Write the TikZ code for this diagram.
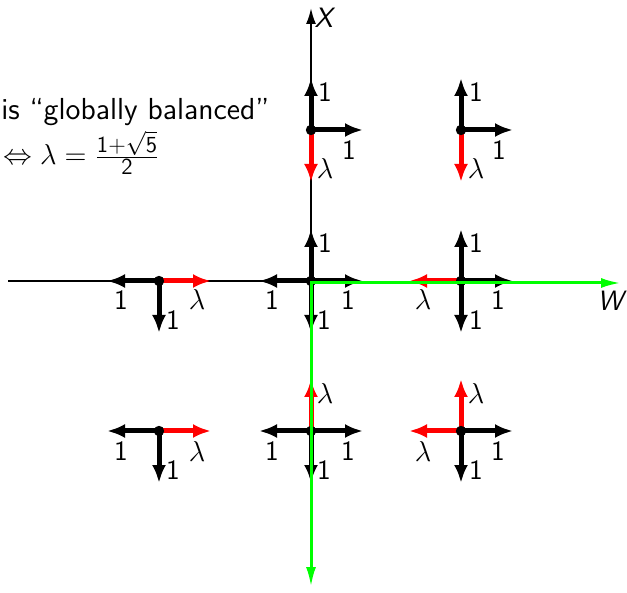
\documentclass[tikz,border=0pt]{standalone}
\usepackage{amsmath}
\usetikzlibrary{arrows.meta}
\renewcommand{\familydefault}{\sfdefault}

\tikzset{
	one/.style={line width=2.5pt, -{Latex[length=9pt,width=7pt]}},
	lam/.style={one, red},
	axis/.style={line width=1pt},
	walk/.style={green, line width=1.5pt},
	note/.style={anchor=west, inner sep=0pt, font=\fontsize{15.2}{18}\selectfont\sffamily},
}
\newcommand{\fracpart}[1]{\text{\fontsize{11.5}{12}\selectfont\sffamily #1}}

\begin{document}
\begin{tikzpicture}[x=0.5pt, y=-0.5pt, font=\fontsize{14}{16}\selectfont\sffamily]
	\useasboundingbox (0,0) rectangle (627,593);
	% lattice points
	\coordinate (t0) at (311,130);
	\coordinate (tr) at (461,130);
	\coordinate (ml) at (159,281);
	\coordinate (m0) at (311,281);
	\coordinate (mr) at (461,281);
	\coordinate (bl) at (159,431);
	\coordinate (b0) at (311,431);
	\coordinate (br) at (461,431);
	\coordinate (xend) at (8,281);
	\coordinate (xtip) at (311,8);
	\coordinate (wcorner) at (311,283);
	\coordinate (wtip) at (621,283);
	\coordinate (wdown) at (311,587);
	% axes
	\draw[axis] (xend) -- (m0);
	\draw[axis, -{Latex[length=8pt,width=5pt]}] (m0) -- (xtip);
	\node (xlab) at (325,18) {\textit{X}};
	\node (wlab) at (612,301) {\textit{W}};
	% top row
	\draw[one] (t0) -- ++(0,-52);
	\draw[one] (t0) -- ++(52,0);
	\draw[lam] (t0) -- ++(0,52);
	\node (t0u) at (325,92) {1};
	\node (t0r) at (349,150) {1};
	\node (t0d) at (325,169) {$\lambda$};
	\draw[one] (tr) -- ++(0,-52);
	\draw[one] (tr) -- ++(52,0);
	\draw[lam] (tr) -- ++(0,52);
	\node (tru) at (476,92) {1};
	\node (trr) at (499,150) {1};
	\node (trd) at (476,169) {$\lambda$};
	% middle row
	\draw[one] (ml) -- ++(-52,0);
	\draw[one] (ml) -- ++(0,52);
	\draw[lam] (ml) -- ++(52,0);
	\node (mll) at (121,300) {1};
	\node (mld) at (173,320) {1};
	\node (mlr) at (197,300) {$\lambda$};
	\draw[one] (m0) -- ++(0,-52);
	\draw[one] (m0) -- ++(-52,0);
	\draw[one] (m0) -- ++(52,0);
	\draw[one] (m0) -- ++(0,52);
	\node (m0u) at (325,243) {1};
	\node (m0l) at (272,300) {1};
	\node (m0r) at (348,300) {1};
	\node (m0d) at (324,320) {1};
	\draw[one] (mr) -- ++(0,-52);
	\draw[lam] (mr) -- ++(-52,0);
	\draw[one] (mr) -- ++(52,0);
	\draw[one] (mr) -- ++(0,52);
	\node (mru) at (476,243) {1};
	\node (mrl) at (423,300) {$\lambda$};
	\node (mrr) at (498,300) {1};
	\node (mrd) at (476,320) {1};
	% bottom row
	\draw[one] (bl) -- ++(-52,0);
	\draw[one] (bl) -- ++(0,52);
	\draw[lam] (bl) -- ++(52,0);
	\node (bll) at (121,451) {1};
	\node (bld) at (173,470) {1};
	\node (blr) at (197,451) {$\lambda$};
	\draw[lam] (b0) -- ++(0,-52);
	\draw[one] (b0) -- ++(-52,0);
	\draw[one] (b0) -- ++(52,0);
	\draw[one] (b0) -- ++(0,52);
	\node (b0u) at (325,393) {$\lambda$};
	\node (b0l) at (272,451) {1};
	\node (b0r) at (348,451) {1};
	\node (b0d) at (324,470) {1};
	\draw[lam] (br) -- ++(0,-52);
	\draw[lam] (br) -- ++(-52,0);
	\draw[one] (br) -- ++(52,0);
	\draw[one] (br) -- ++(0,52);
	\node (bru) at (476,393) {$\lambda$};
	\node (brl) at (423,451) {$\lambda$};
	\node (brr) at (498,451) {1};
	\node (brd) at (476,470) {1};
	% dots
	\foreach \p in {t0,tr,ml,m0,mr,bl,b0,br}
		\fill (\p) circle (2.6pt);
	% the walk
	\draw[walk, {Latex[length=10pt,width=5pt]}-{Latex[length=10pt,width=5pt]}] (wdown) -- (wcorner) -- (wtip);
	% text
	\node[note] (bal) at (1,112) {is ``globally balanced''};
	\node[note] (gold) at (3,153) {$\Leftrightarrow \lambda = \genfrac{}{}{}{1}{\fracpart{1+\ensuremath{\sqrt{\textsf{5}}}}}{\fracpart{2}}$};
\end{tikzpicture}
\end{document}
